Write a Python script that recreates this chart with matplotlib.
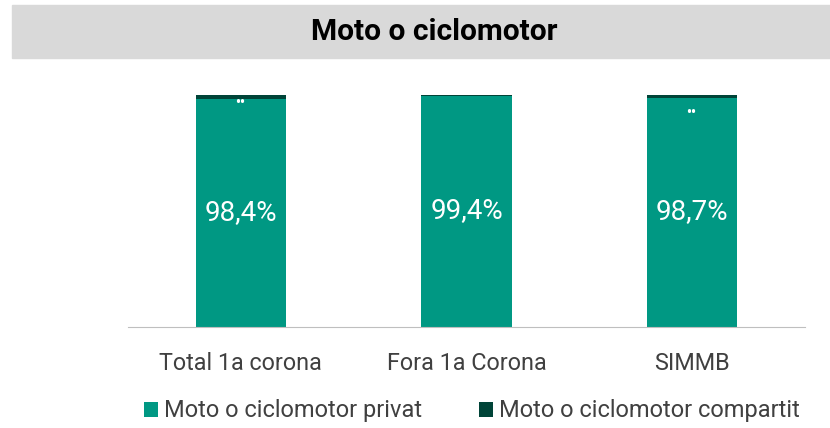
import matplotlib
matplotlib.use("Agg")
import matplotlib.pyplot as plt
from matplotlib.patches import Rectangle

plt.rcParams['font.family'] = ['Roboto', 'DejaVu Sans']

categories = ["Total 1a corona", "Fora 1a Corona", "SIMMB"]
privat = [98.4, 99.4, 98.7]
compartit = [1.6, 0.6, 1.3]
privat_labels = ["98,4%", "99,4%", "98,7%"]
compartit_labels = ["••", "", "••"]
series_names = ["Moto o ciclomotor privat", "Moto o ciclomotor compartit"]
title = "Moto o ciclomotor"

C_PRIV = "#009883"
C_COMP = "#004438"
# how far below the top of the private segment the tiny labels sit
small_offset = [1.8, 0, 6.3]

fig = plt.figure(figsize=(8.3, 4.28), dpi=100)

# grey title band
fig.patches.append(Rectangle((12 / 830, 1 - 58 / 428), 818 / 830, 53 / 428,
                             transform=fig.transFigure, color="#d9d9d9", zorder=0))
fig.text(434 / 830, 1 - 32 / 428, title, ha="center", va="center",
         fontsize=21.5, fontweight="bold", color="black")

ax = fig.add_axes([128 / 830, 1 - 327 / 428, 677 / 830, 232 / 428])
x = range(len(categories))
b1 = ax.bar(x, privat, width=0.4, color=C_PRIV, label=series_names[0])
b2 = ax.bar(x, compartit, width=0.4, bottom=privat, color=C_COMP, label=series_names[1])

for i in x:
    ax.text(i, privat[i] / 2 + 0.3, privat_labels[i], ha="center", va="center",
            color="white", fontsize=20)
    if compartit_labels[i]:
        ax.text(i - 0.005, privat[i] - small_offset[i], compartit_labels[i], ha="center",
                va="center", color="white", fontsize=10, fontweight="bold")

ax.set_xlim(-0.5, 2.5)
ax.set_ylim(0, 100)
ax.set_yticks([])
ax.set_xticks(list(x))
ax.set_xticklabels(categories, fontsize=16.8, color="#404040")
ax.tick_params(axis="x", length=0, pad=18)
for s in ["top", "right", "left"]:
    ax.spines[s].set_visible(False)
ax.spines["bottom"].set_color("#bfbfbf")

fig.legend(handles=[b1, b2], labels=series_names, loc="center",
           bbox_to_anchor=(472 / 830, 1 - 411 / 428), ncol=2, frameon=False,
           fontsize=17, labelcolor="#404040", handlelength=0.6, handleheight=0.6,
           handletextpad=0.25, columnspacing=2.4)

fig.savefig("out.png", dpi=100)
